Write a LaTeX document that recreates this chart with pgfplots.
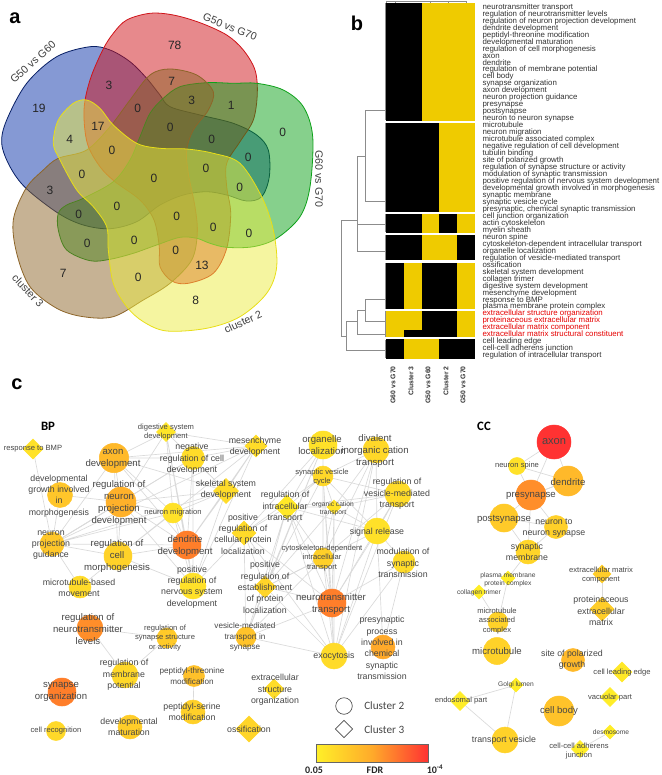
\documentclass[border=0pt]{standalone}
\usepackage{fontspec}
\setmainfont{Liberation Sans}
\newfontfamily\calf{Carlito}
\usepackage{pgfplots}
\pgfplotsset{compat=1.18}
\definecolor{hy}{RGB}{239,203,0}
\definecolor{den}{RGB}{140,140,140}
\definecolor{edge}{RGB}{218,218,218}
\definecolor{tx}{RGB}{70,70,70}
\definecolor{c0}{RGB}{255,240,40}
\definecolor{c1}{RGB}{255,170,42}
\definecolor{c2}{RGB}{255,50,50}
\definecolor{vb}{RGB}{11,51,169}
\definecolor{vr}{RGB}{207,19,25}
\definecolor{vg}{RGB}{13,161,25}
\definecolor{vy}{RGB}{235,235,65}
\definecolor{vo}{RGB}{141,101,41}
\tikzset{
 lb/.style={align=center,inner sep=0pt,text=tx},
 A/.style={font=\fontsize{8.3}{10}\selectfont},
 B/.style={font=\fontsize{7.2}{9}\selectfont},
 C/.style={font=\fontsize{6.6}{8.5}\selectfont},
 F/.style={font=\fontsize{6.1}{7.8}\selectfont},
 D/.style={font=\fontsize{5.7}{7.3}\selectfont},
 E/.style={font=\fontsize{5}{6.3}\selectfont},
 rl/.style={anchor=mid west,inner sep=0pt,text=black!80,font=\fontsize{5.9}{6}\selectfont},
 vn/.style={inner sep=0pt,text=black!85,font=\fontsize{9}{10}\selectfont},
 vl/.style={inner sep=0pt,text=black!75,font=\fontsize{8}{9}\selectfont}
}
\newcommand\Lbl[4]{\node[lb,#3] at (axis cs:#1,#2) {#4};}
\newcommand\Rl[2]{\node[rl] at (axis cs:482.3,#1) {#2};}
\newcommand\Rr[2]{\node[rl,text=red!90!black] at (axis cs:482.3,#1) {#2};}
\newcommand\Vn[3]{\node[vn] at (axis cs:#1,#2) {#3};}
\newcommand\R[5]{\addplot[fill=#5,draw=none] coordinates {(#1,#2)(#3,#2)(#3,#4)(#1,#4)} --cycle;}
\begin{document}
\begin{tikzpicture}
\begin{axis}[scale only axis,width=495.75pt,height=581.25pt,xmin=0,xmax=661,ymin=0,ymax=775,
 y dir=reverse,hide axis,clip=false,clip mode=individual,
 colormap={fdr}{rgb255=(255,240,40) rgb255=(255,190,42) rgb255=(255,125,42) rgb255=(255,50,50)},
 point meta min=0,point meta max=100]
\path (axis cs:0,0) rectangle (axis cs:661,775);

% ---------- panel a: Venn
\addplot[smooth cycle,tension=0.55,fill=vb,fill opacity=.5,draw=vb!60!black,line width=.6pt] coordinates {
(1.7,143.3)(10,166.7)(26,188.3)(58.3,213.3)(83.3,225)(110,228.7)(136.7,221.7)(160,205)(183.3,195)(206.7,191.7)(226.7,195)(246.7,201)(261.7,196.7)(269.3,176.7)(268.3,150)(256.7,135)(233.3,123.3)(200,115)(170,106.7)(160,95)(146.7,78.3)(130,61.7)(110,50)(90,46.7)(56.7,56.7)(26.7,83.3)(6.7,120)};
\addplot[smooth cycle,tension=0.55,fill=vr,fill opacity=.5,draw=vr,line width=.6pt] coordinates {
(102.7,50)(90,80)(84,110)(87.3,143.3)(100,166.7)(115,181.7)(140,200)(154,220)(159.3,246.7)(160,266.7)(171.7,281)(188.3,283.3)(213.3,273.3)(226.7,248.3)(230.7,213.3)(226.7,186.7)(226.7,163.3)(240,141.7)(253.3,120)(257.3,93.3)(255,70)(243.3,50)(226.7,35)(200,22.7)(173.3,15)(150,13.3)(126.7,20)(113.3,33.3)};
\addplot[smooth cycle,tension=0.55,fill=vg,fill opacity=.5,draw=vg,line width=.6pt] coordinates {
(256.7,83.3)(283.3,90)(303.3,106.7)(312.7,136.7)(310,186.7)(300,216.7)(276.7,238.3)(253.3,246.7)(226.7,247.3)(210,243.3)(196.7,238.3)(180,237.3)(156.7,245)(133.3,253.3)(110,259.3)(90,260.7)(66.7,250)(58.3,230)(58.3,213.3)(66.7,205)(83.3,198.3)(113.3,181.7)(130,160)(140,136.7)(150,113.3)(163.3,98.3)(180,86.7)(206.7,82.7)(233.3,83.3)};
\addplot[smooth cycle,tension=0.55,fill=vo,fill opacity=.5,draw=vo,line width=.6pt] coordinates {
(26,188.3)(43.3,170)(58.3,158.3)(86.7,150)(110,126.7)(130,100)(150,75)(170,69)(196.7,75)(213.3,91.7)(208.3,110)(193.3,130)(186.7,150)(188.3,173.3)(195,206.7)(197.3,233.3)(191.7,260)(170,283.3)(143.3,300)(113.3,316.7)(83.3,316.7)(56.7,308.3)(30,286.7)(16.7,253.3)(13.3,220)};
\addplot[smooth cycle,tension=0.55,fill=vy,fill opacity=.5,draw=yellow!90!black,line width=.6pt] coordinates {
(166.7,331)(143.3,321.7)(126.7,306.7)(113.3,283.3)(108.3,250)(106.7,226.7)(93.3,206.7)(76.7,190)(60,160)(53.3,143.3)(58.3,120)(73.3,103.3)(86.7,100)(100,108.3)(113.3,125)(136.7,143.3)(160,148.3)(186.7,149)(213.3,153.3)(240,163.3)(261.7,196.7)(273.3,230)(276.7,266.7)(266.7,293.3)(240,316.7)(206.7,328.3)};

\Vn{39}{108}{19}\Vn{174.7}{45}{78}\Vn{282.7}{132.7}{0}\Vn{195.7}{300.7}{8}\Vn{63.3}{273.3}{7}
\Vn{109}{85.3}{3}\Vn{171.7}{81}{7}\Vn{191.7}{100}{3}\Vn{231.3}{105.3}{1}\Vn{137.7}{108.7}{0}
\Vn{170.3}{127}{0}\Vn{211.7}{139}{0}\Vn{248.3}{157.7}{0}\Vn{98}{126.7}{17}\Vn{69.7}{139}{4}
\Vn{112}{150.7}{0}\Vn{82}{174.3}{0}\Vn{50}{190}{3}\Vn{154}{178.7}{0}\Vn{206}{168.7}{0}
\Vn{239.7}{187.7}{0}\Vn{117}{206}{0}\Vn{78.7}{214.7}{0}\Vn{176.7}{216}{0}\Vn{213.3}{227}{0}
\Vn{249}{233.7}{0}\Vn{87.3}{243.7}{0}\Vn{134.3}{240.7}{0}\Vn{175.7}{250.7}{0}\Vn{202}{265.7}{13}
\Vn{138.3}{277.7}{0}
\node[vl,rotate=42] at (axis cs:33,62) {G50 vs G60};
\node[vl,rotate=-22] at (axis cs:230,27) {G50 vs G70};
\node[vl,rotate=-90] at (axis cs:319,179) {G60 vs G70};
\node[vl,rotate=-47] at (axis cs:28,291) {cluster 3};
\node[vl,rotate=25] at (axis cs:243,322) {cluster 2};

% ---------- panel b: heatmap
\R{386}{2.7}{421.7}{120.7}{black}\R{421.7}{2.7}{475}{120.7}{hy}
\R{386}{122.7}{439.3}{212.3}{black}\R{439.3}{122.7}{475}{212.3}{hy}
\R{386}{213.7}{421.7}{232.7}{black}\R{421.7}{213.7}{439.3}{232.7}{hy}\R{439.3}{213.7}{457.3}{232.7}{black}\R{457.3}{213.7}{475}{232.7}{hy}
\R{386}{234.7}{421.7}{260.3}{black}\R{421.7}{234.7}{457.3}{260.3}{hy}\R{457.3}{234.7}{475}{260.3}{black}
\R{386}{262.7}{404}{309.3}{black}\R{404}{262.7}{421.7}{309.3}{hy}\R{421.7}{262.7}{457.3}{309.3}{black}\R{457.3}{262.7}{475}{309.3}{hy}
\R{386}{311.3}{421.7}{337.3}{hy}\R{404}{330}{421.7}{337.3}{black}\R{421.7}{311.3}{457.3}{337.3}{black}\R{457.3}{311.3}{475}{337.3}{hy}
\R{386}{339.3}{404}{358.7}{black}\R{404}{339.3}{439.3}{358.7}{hy}\R{439.3}{339.3}{475}{358.7}{black}
% dendrogram
\addplot[den,line width=.6pt] coordinates {(385,110.7)(365.3,110.7)(365.3,201)(385,201)};
\addplot[den,line width=.6pt] coordinates {(365.3,156)(357.3,156)(357.3,251.7)(385,251.7)};
\addplot[den,line width=.6pt] coordinates {(357.3,224)(385,224)};
\addplot[den,line width=.6pt] coordinates {(357.3,220.7)(341.7,220.7)(341.7,336.7)(346.3,336.7)};
\addplot[den,line width=.6pt] coordinates {(357.3,321.7)(346.3,321.7)(346.3,350)(385,350)};
\addplot[den,line width=.6pt] coordinates {(365.3,310.7)(357.3,310.7)(357.3,334.3)(385,334.3)};
\addplot[den,line width=.6pt] coordinates {(385,299.3)(365.3,299.3)(365.3,321.7)(385,321.7)};
\addplot[den,line width=.5pt] coordinates {(385,3)(385,120)};
\addplot[den,line width=.5pt] coordinates {(385,123)(385,212)};
\addplot[den,line width=.5pt] coordinates {(385,214)(385,232)};
\addplot[den,line width=.5pt] coordinates {(385,235)(385,260)};
\addplot[den,line width=.5pt] coordinates {(385,263)(385,309)};
\addplot[den,line width=.5pt] coordinates {(385,311)(385,337)};
\addplot[den,line width=.5pt] coordinates {(385,340)(385,358)};
\addplot[den,line width=.6pt] coordinates {(386,3)(386,1.2)(466,1.2)(466,3)};
\addplot[den,line width=.6pt] coordinates {(395,1.2)(395,2.6)};
\addplot[den,line width=.6pt] coordinates {(430,1.2)(430,2.6)};
\addplot[den,line width=.6pt] coordinates {(448,1.2)(448,2.6)};

\Rl{5.7}{neurotransmitter transport}\Rl{12.7}{regulation of neurotransmitter levels}\Rl{19.6}{regulation of neuron projection development}
\Rl{26.6}{dendrite development}\Rl{33.6}{peptidyl-threonine modification}\Rl{40.6}{developmental maturation}\Rl{47.5}{regulation of cell morphogenesis}
\Rl{54.5}{axon}\Rl{61.5}{dendrite}\Rl{68.4}{regulation of membrane potential}\Rl{75.4}{cell body}\Rl{82.4}{synapse organization}
\Rl{89.3}{axon development}\Rl{96.3}{neuron projection guidance}\Rl{103.3}{presynapse}\Rl{110.3}{postsynapse}\Rl{117.2}{neuron to neuron synapse}
\Rl{124.2}{microtubule}\Rl{131.2}{neuron migration}\Rl{138.1}{microtubule associated complex}\Rl{145.1}{negative regulation of cell development}
\Rl{152.1}{tubulin binding}\Rl{159.1}{site of polarized growth}\Rl{166}{regulation of synapse structure or activity}\Rl{173}{modulation of synaptic transmission}
\Rl{180}{positive regulation of nervous system development}\Rl{186.9}{developmental growth involved in morphogenesis}\Rl{193.9}{synaptic membrane}
\Rl{200.9}{synaptic vesicle cycle}\Rl{207.8}{presynaptic, chemical synaptic transmission}\Rl{214.8}{cell junction organization}\Rl{221.8}{actin cytoskeleton}
\Rl{228.8}{myelin sheath}\Rl{235.7}{neuron spine}\Rl{242.7}{cytoskeleton-dependent intracellular transport}\Rl{249.7}{organelle localization}
\Rl{256.6}{regulation of vesicle-mediated transport}\Rl{263.6}{ossification}\Rl{270.6}{skeletal system development}\Rl{277.5}{collagen trimer}
\Rl{284.5}{digestive system development}\Rl{291.5}{mesenchyme development}\Rl{298.5}{response to BMP}\Rl{305.4}{plasma membrane protein complex}
\Rr{312.4}{extracellular structure organization}\Rr{319.4}{proteinaceous extracellular matrix}\Rr{326.3}{extracellular matrix component}\Rr{333.3}{extracellular matrix structural constituent}
\Rl{340.3}{cell leading edge}\Rl{347.2}{cell-cell adherens junction}\Rl{354.2}{regulation of intracellular transport}
\node[rotate=90,anchor=east,inner sep=0pt,font=\bfseries\fontsize{5.1}{6}\selectfont,text=black!80] at (axis cs:393,366) {G60 vs G70};
\node[rotate=90,anchor=east,inner sep=0pt,font=\bfseries\fontsize{5.1}{6}\selectfont,text=black!80] at (axis cs:411,366) {Cluster 3};
\node[rotate=90,anchor=east,inner sep=0pt,font=\bfseries\fontsize{5.1}{6}\selectfont,text=black!80] at (axis cs:428,366) {G50 vs G60};
\node[rotate=90,anchor=east,inner sep=0pt,font=\bfseries\fontsize{5.1}{6}\selectfont,text=black!80] at (axis cs:446,366) {Cluster 2};
\node[rotate=90,anchor=east,inner sep=0pt,font=\bfseries\fontsize{5.1}{6}\selectfont,text=black!80] at (axis cs:463,366) {G50 vs G70};

% ---------- panel c: edges
\addplot[edge,line width=.5pt] coordinates {(33,449)(52,544)};
\addplot[edge,line width=.5pt] coordinates {(114,458)(193,458)(114,458)(166,432)(114,458)(256,446)(114,458)(226,491)(114,458)(187,545)(114,458)(121,502)(114,458)(52,544)(114,458)(118,556)(114,458)(173,513)};
\addplot[edge,line width=.5pt] coordinates {(193,458)(256,446)(193,458)(187,545)(193,458)(121,502)(193,458)(226,491)(193,458)(193,586)(193,458)(52,544)};
\addplot[edge,line width=.5pt] coordinates {(166,432)(121,502)(166,432)(173,513)(166,432)(187,545)(166,432)(256,446)(166,432)(193,586)(166,432)(226,491)};
\addplot[edge,line width=.5pt] coordinates {(121,502)(187,545)(121,502)(52,544)(121,502)(118,556)(121,502)(173,513)(121,502)(193,586)(121,502)(226,491)(121,502)(60,495)};
\addplot[edge,line width=.5pt] coordinates {(52,544)(118,556)(52,544)(187,545)(52,544)(256,446)(52,544)(226,491)(52,544)(173,513)(52,544)(60,495)(52,544)(193,458)(52,544)(80,587)};
\addplot[edge,line width=.5pt] coordinates {(118,556)(187,545)(118,556)(193,586)(118,556)(173,513)(118,556)(80,587)(118,556)(256,446)};
\addplot[edge,line width=.5pt] coordinates {(187,545)(193,586)(187,545)(173,513)(187,545)(226,491)(187,545)(256,446)(193,586)(226,491)(193,586)(173,513)(226,491)(256,446)};
\addplot[edge,line width=.5pt] coordinates {(323,476)(377,531)(323,476)(398,494)(323,476)(332,603)(323,476)(334,656)(323,476)(334,507)(323,476)(287,507)(323,476)(244,533)(323,476)(265,587)};
\addplot[edge,line width=.5pt] coordinates {(323,445)(287,507)(323,445)(265,587)(323,445)(244,533)(323,445)(323,558)(323,445)(246,637)};
\addplot[edge,line width=.5pt] coordinates {(376,450)(334,507)(376,450)(332,603)(376,450)(334,656)(376,450)(377,531)(376,450)(323,558)(376,450)(323,476)};
\addplot[edge,line width=.5pt] coordinates {(398,494)(334,507)(398,494)(287,507)(398,494)(377,531)(398,494)(332,603)(398,494)(334,656)(398,494)(323,558)};
\addplot[edge,line width=.5pt] coordinates {(377,531)(332,603)(377,531)(334,656)(377,531)(334,507)(377,531)(323,558)(377,531)(404,562)(377,531)(287,507)(377,531)(383,647)(377,531)(265,587)};
\addplot[edge,line width=.5pt] coordinates {(334,507)(332,603)(334,507)(334,656)(334,507)(323,558)(334,507)(287,507)(334,507)(265,587)};
\addplot[edge,line width=.5pt] coordinates {(287,507)(323,558)(287,507)(332,603)(287,507)(334,656)(287,507)(244,533)(287,507)(265,587)(287,507)(246,637)};
\addplot[edge,line width=.5pt] coordinates {(323,558)(332,603)(323,558)(334,656)(323,558)(265,587)(323,558)(246,637)};
\addplot[edge,line width=.5pt] coordinates {(332,603)(334,656)(332,603)(246,637)(332,603)(265,587)(332,603)(244,533)(332,603)(404,562)};
\addplot[edge,line width=.5pt] coordinates {(265,587)(244,533)(265,587)(246,637)(265,587)(334,656)(246,637)(334,656)(244,533)(193,586)(244,533)(246,637)(244,533)(334,656)(404,562)(383,647)};
\addplot[edge,line width=.5pt] coordinates {(90,628)(167,638)(125,675)(90,628)};
\addplot[edge,line width=.5pt] coordinates {(194,676)(193,712)};
\addplot[edge,line width=.5pt] coordinates {(554,442)(517,466)(554,442)(568,481)(554,442)(531,495)};
\addplot[edge,line width=.5pt] coordinates {(517,466)(568,481)(531,495)(517,466)};
\addplot[edge,line width=.5pt] coordinates {(568,481)(531,495)(504,518)(531,495)(556,527)(531,495)(528,552)};
\addplot[edge,line width=.5pt] coordinates {(504,518)(556,527)(528,552)(504,518)};
\addplot[edge,line width=.5pt] coordinates {(528,552)(508,578)(498,622)(479,592)};
\addplot[edge,line width=.5pt] coordinates {(602,574)(602,609)};
\addplot[edge,line width=.5pt] coordinates {(460,701)(516,685)(505,740)(460,701)};
\addplot[edge,line width=.5pt] coordinates {(610,732)(580,749)};

% nodes
\addplot[scatter,only marks,mark=*,point meta=explicit,
 scatter/use mapped color={draw=mapped color,fill=mapped color},
 visualization depends on={0.75*\thisrow{r} \as \rr},
 scatter/@pre marker code/.append style={/tikz/mark size=\rr}]
 table[x=x,y=y,meta=m] {
x y r m
114 458 14.7 36
193 458 11.5 13
60 495 12.5 28
121 502 15 40
173 513 10 10
52 544 12 27
118 556 14 20
187 545 14 66
323 445 14 10
376 450 13 16
323 476 10 16
398 494 13 13
377 531 13 10
323 558 10 21
404 562 11 14
332 603 14 66
246 637 10 30
334 656 13 14
383 647 12 44
80 587 11 14
193 586 13 10
90 628 13 58
167 638 10 25
125 675 13 16
194 676 10.5 31
193 712 12 21
62 692 14 66
56 731 9.5 15
130 727 12 23
554 442 17 100
517 466 8.5 10
568 481 15 36
531 495 15 58
504 518 14 25
556 527 11.5 21
528 552 12 18
498 622 10 20
497 651 13.5 20
573 660 11.5 36
559 711 15 30
505 740 13 20
};
\addplot[scatter,only marks,mark=square*,mark options={rotate=45},point meta=explicit,
 scatter/use mapped color={draw=mapped color,fill=mapped color},
 visualization depends on={0.53*\thisrow{h} \as \rr},
 scatter/@pre marker code/.append style={/tikz/mark size=\rr}]
 table[x=x,y=y,meta=m] {
x y h m
33 449 10 9
166 432 9.5 7
226 491 12.5 13
256 446 11 13
287 507 12 5
334 507 7 9
244 533 12 14
265 587 11 18
274 689 10 13
249 729 13 18
508 578 7 2
602 574 9 23
479 592 7 2
602 609 12 23
622 672 10 5
516 685 7 2
460 701 9.5 2
610 697 9.5 2
610 732 7 2
580 749 8.5 2
};
% labels BP
\Lbl{33}{449}{D}{response to BMP}
\Lbl{113}{459}{B}{axon\\development}
\Lbl{166}{432}{D}{digestive system\\development}
\Lbl{192}{459}{C}{negative\\regulation of cell\\development}
\Lbl{59}{496}{C}{developmental\\growth involved\\in\\morphogenesis}
\Lbl{119}{503}{B}{regulation of\\neuron\\projection\\development}
\Lbl{173}{513}{D}{neuron migration}
\Lbl{226}{490}{C}{skeletal system\\development}
\Lbl{51}{545}{C}{neuron\\projection\\guidance}
\Lbl{117}{556}{B}{regulation of\\cell\\morphogenesis}
\Lbl{185}{546}{B}{dendrite\\development}
\Lbl{255}{447}{C}{mesenchyme\\development}
\Lbl{322}{445}{B}{organelle\\localization}
\Lbl{375}{451}{B}{divalent\\inorganic cation\\transport}
\Lbl{322}{477}{D}{synaptic vesicle\\cycle}
\Lbl{397}{494}{C}{regulation of\\vesicle-mediated\\transport}
\Lbl{285}{507}{C}{regulation of\\intracellular\\transport}
\Lbl{333}{509}{E}{organic cation\\transport}
\Lbl{377}{532}{C}{signal release}
\Lbl{243}{534}{C}{positive\\regulation of\\cellular protein\\localization}
\Lbl{322}{558}{D}{cytoskeleton-dependent\\intracellular\\transport}
\Lbl{403}{563}{C}{modulation of\\synaptic\\transmission}
\Lbl{265}{587.5}{C}{positive\\regulation of\\establishment\\of protein\\localization}
\Lbl{331}{604}{B}{neurotransmitter\\transport}
\Lbl{245}{637}{F}{vesicle-mediated\\transport in\\synapse}
\Lbl{334}{656}{C}{exocytosis}
\Lbl{382}{648}{C}{presynaptic\\process\\involved in\\chemical\\synaptic\\transmission}
\Lbl{275}{690}{C}{extracellular\\structure\\organization}
\Lbl{249}{729}{C}{ossification}
\Lbl{79}{588}{C}{microtubule-based\\movement}
\Lbl{192}{587}{C}{positive\\regulation of\\nervous system\\development}
\Lbl{88}{629}{B}{regulation of\\neurotransmitter\\levels}
\Lbl{165}{638}{D}{regulation of\\synapse structure\\or activity}
\Lbl{124}{675}{C}{regulation of\\membrane\\potential}
\Lbl{192}{676}{F}{peptidyl-threonine\\modification}
\Lbl{192}{712}{C}{peptidyl-serine\\modification}
\Lbl{61}{692}{B}{synapse\\organization}
\Lbl{56}{731}{D}{cell recognition}
\Lbl{129}{727}{C}{developmental\\maturation}
% labels CC
\Lbl{554}{442}{A}{axon}
\Lbl{517}{466}{D}{neuron spine}
\Lbl{568}{482}{B}{dendrite}
\Lbl{531}{496}{B}{presynapse}
\Lbl{504}{519}{B}{postsynapse}
\Lbl{554}{528}{C}{neuron to\\neuron synapse}
\Lbl{527}{552}{C}{synaptic\\membrane}
\Lbl{508}{580}{E}{plasma membrane\\protein complex}
\Lbl{601}{575}{D}{extracellular matrix\\component}
\Lbl{479}{593}{E}{collagen trimer}
\Lbl{497}{621}{D}{microtubule\\associated\\complex}
\Lbl{601}{611}{C}{proteinaceous\\extracellular\\matrix}
\Lbl{497}{651}{B}{microtubule}
\Lbl{572}{660}{C}{site of polarized\\growth}
\Lbl{622}{673}{D}{cell leading edge}
\Lbl{516}{685}{E}{Golgi lumen}
\Lbl{461}{701}{D}{endosomal part}
\Lbl{610}{698}{D}{vacuolar part}
\Lbl{559}{711}{B}{cell body}
\Lbl{504}{740}{C}{transport vesicle}
\Lbl{611}{732}{E}{desmosome}
\Lbl{579}{751}{D}{cell-cell adherens\\junction}
% legend
\addplot[only marks,mark=*,mark size=6.2pt,mark options={fill=white,draw=black!70,line width=.5pt}] coordinates {(344,706)};
\addplot[only marks,mark=square*,mark size=4.6pt,mark options={fill=white,draw=black!70,line width=.5pt,rotate=45}] coordinates {(344,729)};
\node[anchor=west,inner sep=0pt,text=tx,font=\calf\fontsize{8.4}{10}\selectfont] at (axis cs:364,706) {Cluster 2};
\node[anchor=west,inner sep=0pt,text=tx,font=\calf\fontsize{8.4}{10}\selectfont] at (axis cs:364,730) {Cluster 3};
\shade[left color=c0,right color=c1,draw=none] (axis cs:316,744) rectangle (axis cs:372,762);
\shade[left color=c1,right color=c2,draw=none] (axis cs:372,744) rectangle (axis cs:428,762);
\draw[black!60,line width=.5pt] (axis cs:316,744) rectangle (axis cs:428,762);
\node[inner sep=0pt,font=\calf\bfseries\fontsize{7.5}{8}\selectfont,text=black!85] at (axis cs:314,770) {0.05};
\node[inner sep=0pt,font=\calf\bfseries\fontsize{7.5}{8}\selectfont,text=black!85] at (axis cs:375,770) {FDR};
\node[inner sep=0pt,font=\calf\bfseries\fontsize{7.5}{8}\selectfont,text=black!85] at (axis cs:435,769) {10\textsuperscript{-4}};
% panel letters
\node[inner sep=0pt,font=\bfseries\fontsize{15}{16}\selectfont] at (axis cs:15,18) {a};
\node[inner sep=0pt,font=\bfseries\fontsize{15}{16}\selectfont] at (axis cs:357,23) {b};
\node[inner sep=0pt,font=\bfseries\fontsize{15}{16}\selectfont] at (axis cs:17,384) {c};
\node[inner sep=0pt,font=\calf\bfseries\fontsize{9.6}{11}\selectfont] at (axis cs:48,426) {BP};
\node[inner sep=0pt,font=\calf\bfseries\fontsize{9.6}{11}\selectfont] at (axis cs:484,426) {CC};
\end{axis}
\end{tikzpicture}
\end{document}
